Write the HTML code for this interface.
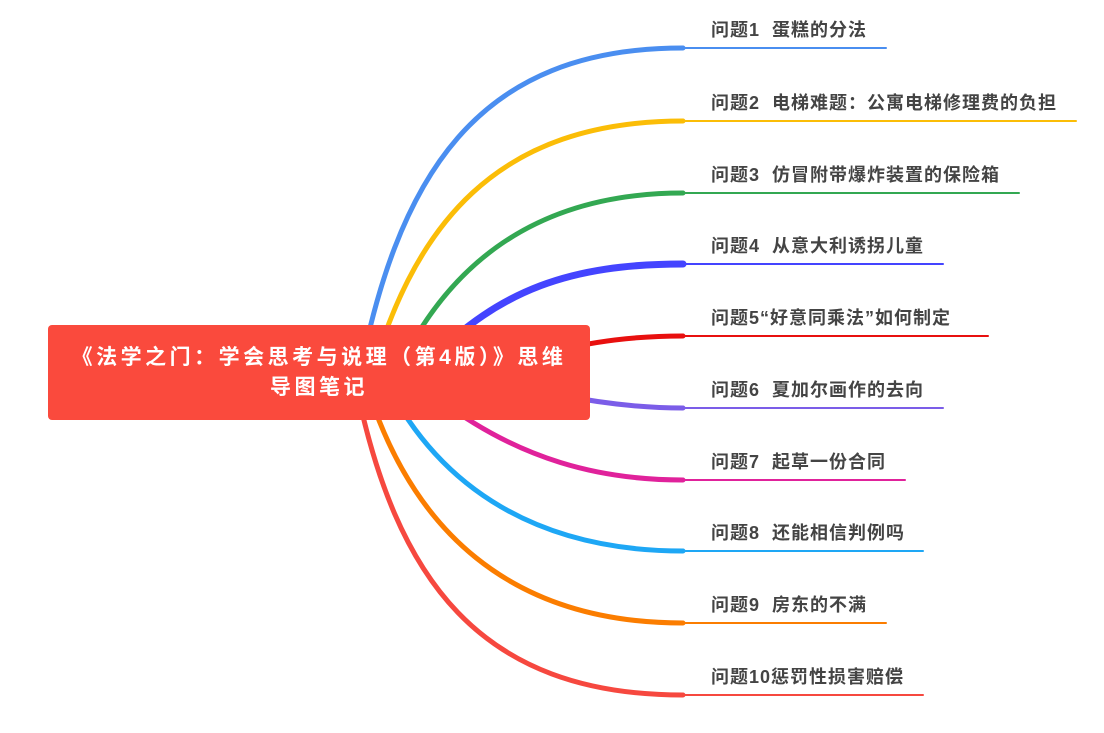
<!DOCTYPE html>
<html><head><meta charset="utf-8"><style>
body{margin:0;background:#fff;width:1104px;height:733px;overflow:hidden;position:relative;font-family:"Liberation Sans","Noto Sans CJK SC",sans-serif}
svg{position:absolute;left:0;top:0}
.box{position:absolute;left:48px;top:325px;width:542px;height:95px;background:#fa4a3d;border-radius:4px;color:#fff;font-weight:bold;font-size:21px;letter-spacing:3.5px;line-height:30px;text-align:center;box-sizing:border-box;padding:18px 0 0 0}
.l{position:absolute;left:711px;font-size:18px;letter-spacing:1px;font-weight:bold;color:#444;white-space:pre;line-height:20px}
</style></head><body>
<svg width="1104" height="733" fill="none" stroke-linecap="round">
<g stroke-width="5">
<path d="M355 400 C395 170,480 48,683 48" stroke="#4a8ef0"/>
<path d="M365 400 C410 220,500 121,683 121" stroke="#fbbd07"/>
<path d="M385 400 C440 260,540 193,683 193" stroke="#33a852"/>
<path d="M430 360 C500 290,570 264,683 264" stroke="#4444ff" stroke-width="7"/>
<path d="M560 350 C600 340,640 336,683 336" stroke="#e8100f"/>
<path d="M560 395 C600 403,640 408,683 408" stroke="#7b5de8"/>
<path d="M440 400 C520 460,600 480,683 480" stroke="#e0229b"/>
<path d="M385 380 C440 490,540 551,683 551" stroke="#1ea7f5"/>
<path d="M365 380 C410 530,510 623,683 623" stroke="#fb7d00"/>
<path d="M355 380 C395 580,480 695,683 695" stroke="#f6483f"/>
</g>
<g stroke-width="2">
<path d="M683 48H886" stroke="#4a8ef0"/>
<path d="M683 121H1076" stroke="#fbbd07"/>
<path d="M683 193H1019" stroke="#33a852"/>
<path d="M683 264H943" stroke="#4444ff"/>
<path d="M683 336H988" stroke="#e8100f"/>
<path d="M683 408H943" stroke="#7b5de8"/>
<path d="M683 480H905" stroke="#e0229b"/>
<path d="M683 551H923" stroke="#1ea7f5"/>
<path d="M683 623H886" stroke="#fb7d00"/>
<path d="M683 695H923" stroke="#f6483f"/>
</g>
</svg>
<div class="box">《法学之门：学会思考与说理（第4版）》思维<br>导图笔记</div>
<div class="l" style="top:20px">问题1  蛋糕的分法</div>
<div class="l" style="top:93px">问题2  电梯难题：公寓电梯修理费的负担</div>
<div class="l" style="top:165px">问题3  仿冒附带爆炸装置的保险箱</div>
<div class="l" style="top:236px">问题4  从意大利诱拐儿童</div>
<div class="l" style="top:308px">问题5“好意同乘法”如何制定</div>
<div class="l" style="top:380px">问题6  夏加尔画作的去向</div>
<div class="l" style="top:452px">问题7  起草一份合同</div>
<div class="l" style="top:523px">问题8  还能相信判例吗</div>
<div class="l" style="top:595px">问题9  房东的不满</div>
<div class="l" style="top:667px">问题10惩罚性损害赔偿</div>
</body></html>
